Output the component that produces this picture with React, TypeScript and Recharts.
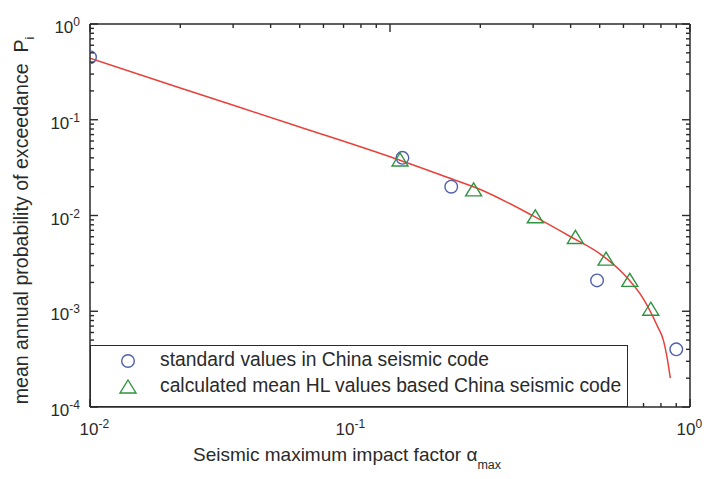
import React from "react";
import { ComposedChart, Line, Scatter, XAxis, YAxis, Legend, Label } from "recharts";

// standard values in China seismic code (circles)
const standardAlpha = [0.01, 0.11, 0.16, 0.49, 0.9];
const standardP = [0.45, 0.04, 0.02, 0.0021, 0.0004];

// calculated mean HL values (triangles)
const calcAlpha = [0.108, 0.19, 0.305, 0.415, 0.525, 0.63, 0.74];
const calcP = [0.038, 0.0185, 0.0097, 0.0059, 0.0035, 0.0021, 0.00105];

// fitted curve (red)
const curveAlpha = [0.01, 0.02, 0.05, 0.1, 0.15, 0.2, 0.3, 0.4, 0.5, 0.6, 0.7, 0.78, 0.815, 0.84, 0.86];
const curveP = [0.44, 0.215, 0.084, 0.041, 0.026, 0.0187, 0.0099, 0.006, 0.004, 0.00246, 0.00134, 0.00069, 0.0005, 0.00032, 0.0002];

const xDecades = [-2, -1, 0];
const yDecades = [-4, -3, -2, -1, 0];

const seriesNames = [
  "standard values in China seismic code",
  "calculated mean HL values based China seismic code",
];

const FONT = '"Liberation Sans", Arial, sans-serif';
const INK = "#2a2a2a";
const BLUE = "#4f5fae";
const GREEN = "#2f9440";
const RED = "#e8413a";

const standardData = standardAlpha.map((x, i) => ({ x, y: standardP[i] }));
const calcData = calcAlpha.map((x, i) => ({ x, y: calcP[i] }));
const curveData = curveAlpha.map((x, i) => ({ x, y: curveP[i] }));

// major + minor ticks for log axes
const logTicks = (decades: number[]) => {
  const out: number[] = [];
  decades.forEach((d, i) => {
    out.push(Math.pow(10, d));
    if (i < decades.length - 1) {
      for (let k = 2; k <= 9; k++) out.push(+(k * Math.pow(10, d)).toPrecision(3));
    }
  });
  return out;
};
const xTicks = logTicks(xDecades);
const yTicks = logTicks(yDecades);

const isMajor = (v: number) => Math.abs(Math.log10(v) - Math.round(Math.log10(v))) < 1e-6;
const expOf = (v: number) => Math.round(Math.log10(v));

// label nudges seen in the original figure
const xLabelShift: Record<string, number> = { "-2": -1, "-1": -45, "0": -4 };

const Circle = ({ cx, cy }: any) => (
  <circle cx={cx} cy={cy} r={6.3} fill="none" stroke={BLUE} strokeWidth={1.4} />
);

const Triangle = ({ cx, cy }: any) => (
  <path
    d={`M${cx},${cy - 7} L${cx + 8},${cy + 6} L${cx - 8},${cy + 6} Z`}
    fill="none"
    stroke={GREEN}
    strokeWidth={1.4}
  />
);

const PowerLabel = ({ x, y, e, anchor }: any) => (
  <text x={x} y={y} textAnchor={anchor} fontFamily={FONT} fontSize={17} fill={INK}>
    10
    <tspan dy={-7} fontSize={12}>{e}</tspan>
  </text>
);

const BottomTick = ({ x, y, payload }: any) => {
  const v = payload.value;
  const major = isMajor(v);
  const e = expOf(v);
  return (
    <g>
      <line x1={x} x2={x} y1={y} y2={y - (major ? 8 : 4)} stroke={INK} strokeWidth={1.4} />
      {major && <PowerLabel x={x + (xLabelShift[String(e)] ?? 0) - 9.5} y={y + 28} e={e} anchor="start" />}
    </g>
  );
};

const TopTick = ({ x, y, payload }: any) => {
  const major = isMajor(payload.value);
  return <line x1={x} x2={x} y1={y} y2={y + (major ? 8 : 4)} stroke={INK} strokeWidth={1.4} />;
};

const LeftTick = ({ x, y, payload }: any) => {
  const v = payload.value;
  const major = isMajor(v);
  return (
    <g>
      <line x1={x} x2={x + (major ? 8 : 4)} y1={y} y2={y} stroke={INK} strokeWidth={1.4} />
      {major && <PowerLabel x={x - 10} y={y + 9} e={expOf(v)} anchor="end" />}
    </g>
  );
};

const RightTick = ({ x, y, payload }: any) => {
  const major = isMajor(payload.value);
  return <line x1={x} x2={x - (major ? 8 : 4)} y1={y} y2={y} stroke={INK} strokeWidth={1.4} />;
};

const XTitle = ({ viewBox }: any) => {
  const cx = viewBox.x + viewBox.width / 2 - 43;
  return (
    <text x={cx} y={viewBox.y + 54} textAnchor="middle" fontFamily={FONT} fontSize={19} fill={INK}>
      Seismic maximum impact factor α
      <tspan dy={8} fontSize={12.5}>max</tspan>
    </text>
  );
};

const YTitle = ({ viewBox }: any) => {
  const cy = viewBox.y + viewBox.height / 2 + 5;
  const cx = 28;
  return (
    <text
      x={cx}
      y={cy}
      transform={`rotate(-90 ${cx} ${cy})`}
      textAnchor="middle"
      fontFamily={FONT}
      fontSize={19.6}
      fill={INK}
      style={{ whiteSpace: "pre" }}
    >
      {"mean annual probability of exceedance  P"}
      <tspan dy={6} fontSize={12.5}>i</tspan>
    </text>
  );
};

const LegendBox = () => (
  <div
    style={{
      position: "relative",
      width: 538,
      height: 62,
      boxSizing: "border-box",
      border: `1.5px solid ${INK}`,
      background: "#fff",
      fontFamily: FONT,
      fontSize: 19.3,
      color: INK,
    }}
  >
    {seriesNames.map((name, i) => (
      <div key={name} style={{ position: "absolute", left: 0, top: 3 + i * 26, height: 24, width: "100%" }}>
        <svg width={60} height={24} style={{ position: "absolute", left: 16, top: 0 }}>
          {i === 0 ? <Circle cx={21} cy={12} /> : <Triangle cx={21} cy={12} />}
        </svg>
        <span style={{ position: "absolute", left: 69, top: 0, whiteSpace: "nowrap" }}>{name}</span>
      </div>
    ))}
  </div>
);

export default function App() {
  return (
    <div style={{ position: "absolute", left: 0, top: 0, width: 707, height: 479, background: "#fff" }}>
      <ComposedChart width={707} height={479} margin={{ top: 23, right: 16, bottom: 12, left: 30 }}>
        <XAxis
          xAxisId="b"
          type="number"
          dataKey="x"
          scale="log"
          domain={[0.01, 1]}
          allowDataOverflow
          ticks={xTicks}
          interval={0}
          tickSize={0}
          tickMargin={0}
          tick={(p: any) => <BottomTick {...p} />}
          axisLine={{ stroke: INK, strokeWidth: 1.5 }}
          height={60}
        >
          <Label content={<XTitle />} />
        </XAxis>
        <XAxis
          xAxisId="t"
          orientation="top"
          type="number"
          dataKey="x"
          scale="log"
          domain={[0.01, 1]}
          allowDataOverflow
          ticks={xTicks}
          interval={0}
          tickSize={0}
          tickMargin={0}
          tick={(p: any) => <TopTick {...p} />}
          axisLine={{ stroke: INK, strokeWidth: 1.5 }}
          height={1}
        />
        <YAxis
          yAxisId="l"
          type="number"
          dataKey="y"
          scale="log"
          domain={[0.0001, 1]}
          allowDataOverflow
          ticks={yTicks}
          interval={0}
          tickSize={0}
          tickMargin={0}
          tick={(p: any) => <LeftTick {...p} />}
          axisLine={{ stroke: INK, strokeWidth: 1.5 }}
          width={60}
        >
          <Label content={<YTitle />} />
        </YAxis>
        <YAxis
          yAxisId="r"
          orientation="right"
          type="number"
          dataKey="y"
          scale="log"
          domain={[0.0001, 1]}
          allowDataOverflow
          ticks={yTicks}
          interval={0}
          tickSize={0}
          tickMargin={0}
          tick={(p: any) => <RightTick {...p} />}
          axisLine={{ stroke: INK, strokeWidth: 1.5 }}
          width={1}
        />
        {/* invisible series so the mirrored frame axes get drawn */}
        <Scatter
          xAxisId="t"
          yAxisId="r"
          data={curveData}
          dataKey="y"
          shape={() => <g />}
          legendType="none"
          isAnimationActive={false}
        />
        <Line
          xAxisId="b"
          yAxisId="l"
          data={curveData}
          dataKey="y"
          type="monotone"
          stroke={RED}
          strokeWidth={1.5}
          dot={false}
          legendType="none"
          isAnimationActive={false}
        />
        <Scatter
          xAxisId="b"
          yAxisId="l"
          name={seriesNames[0]}
          data={standardData}
          dataKey="y"
          shape={(p: any) => <Circle {...p} />}
          isAnimationActive={false}
        />
        <Scatter
          xAxisId="b"
          yAxisId="l"
          name={seriesNames[1]}
          data={calcData}
          dataKey="y"
          shape={(p: any) => <Triangle {...p} />}
          isAnimationActive={false}
        />
        <Legend
          layout="horizontal"
          verticalAlign="middle"
          content={() => <LegendBox />}
          wrapperStyle={{ position: "absolute", left: 90, top: 345, width: 538, height: 62 }}
        />
      </ComposedChart>
    </div>
  );
}
